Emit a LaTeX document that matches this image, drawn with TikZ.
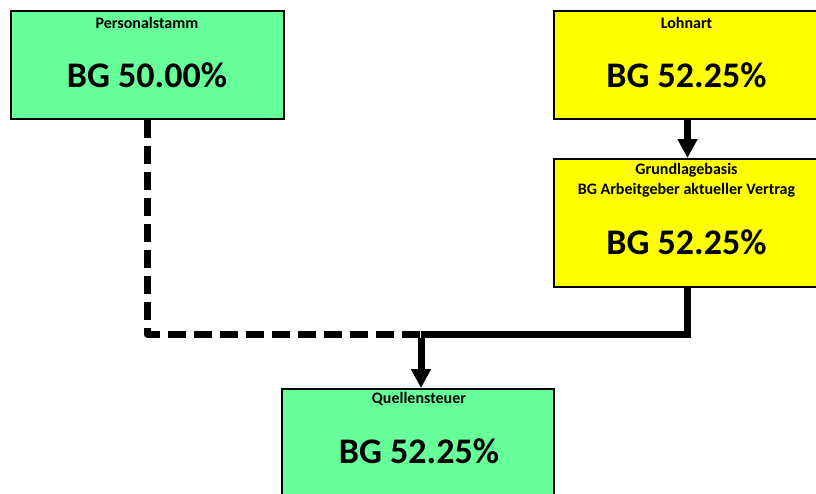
\documentclass[tikz,border=0pt]{standalone}
\usepackage{fontspec}
\setmainfont{Carlito}
\usetikzlibrary{arrows.meta}
\definecolor{boxgreen}{HTML}{66FF99}
\definecolor{boxyellow}{HTML}{FFFF00}
\tikzset{
  box/.style={draw=black, line width=2pt, rectangle, inner sep=0pt},
  greenbox/.style={box, fill=boxgreen},
  yellowbox/.style={box, fill=boxyellow},
  smalltxt/.style={inner sep=0pt, anchor=base, font=\fontsize{16}{20}\selectfont\bfseries},
  bigtxt/.style={inner sep=0pt, anchor=base, font=\fontsize{36}{40}\selectfont\bfseries},
  conn/.style={line width=7pt, line join=miter, -{Triangle[length=19pt,width=19pt]}},
  connplain/.style={line width=7pt, line join=miter},
  dashline/.style={line width=7pt, line join=round, dash pattern=on 18pt off 8pt}
}
\begin{document}
\begin{tikzpicture}[x=1pt,y=-1pt]
\clip (0,0) rectangle (816,493);
\fill[white] (0,0) rectangle (816,493);
% boxes
\node[greenbox, minimum width=273pt, minimum height=108pt, anchor=north west] (ps) at (10,10) {};
\node[yellowbox, minimum width=267pt, minimum height=108pt, anchor=north west] (la) at (553,10) {};
\node[yellowbox, minimum width=267pt, minimum height=128pt, anchor=north west] (gb) at (553,158) {};
\node[greenbox, minimum width=272pt, minimum height=140pt, anchor=north west] (qs) at (281,388) {};
% texts
\node[smalltxt] (pst) at (147,28) {Personalstamm};
\node[bigtxt] (psv) at (147,87) {BG 50.00\%};
\node[smalltxt] (lat) at (686.5,28) {Lohnart};
\node[bigtxt] (lav) at (686.5,87) {BG 52.25\%};
\node[smalltxt] (gbt1) at (686.5,174) {Grundlagebasis};
\node[smalltxt] (gbt2) at (686.5,194) {BG Arbeitgeber aktueller Vertrag};
\node[bigtxt] (gbv) at (686.5,254) {BG 52.25\%};
\node[smalltxt] (qst) at (419,403) {Quellensteuer};
\node[bigtxt] (qsv) at (419,463) {BG 52.25\%};
% connectors
\coordinate (j) at (421,334);
\draw[dashline] (ps.south) |- (j);
\draw[connplain] (gb.south) |- (j);
\draw[conn] ([yshift=-3.5pt]j) -- (j |- qs.north);
\draw[conn] (la.south -| gb.north) -- (gb.north);
\end{tikzpicture}
\end{document}
